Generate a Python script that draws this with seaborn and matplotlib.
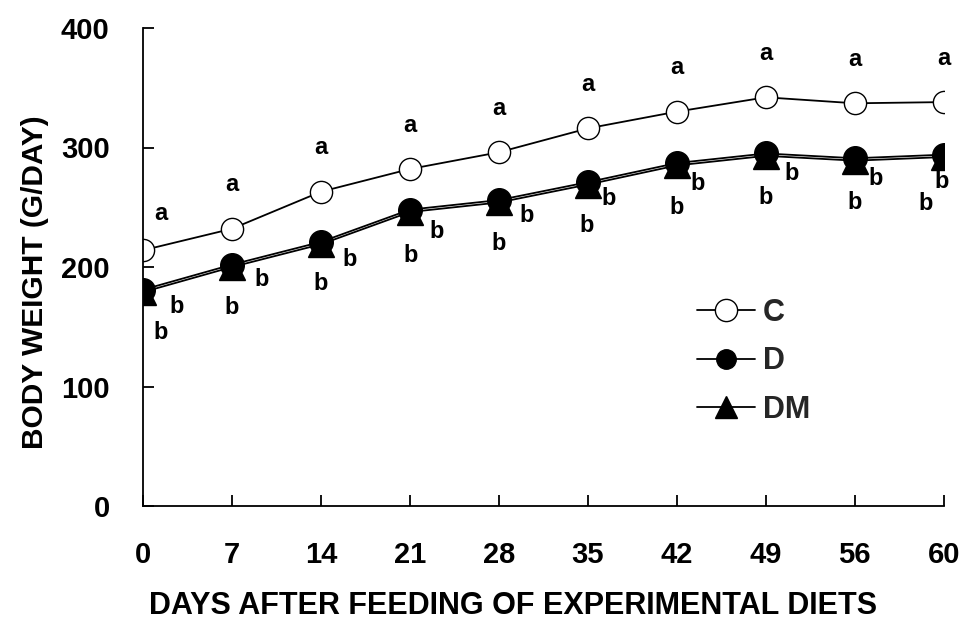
import numpy as np
import pandas as pd
import matplotlib
matplotlib.use("Agg")
import matplotlib.pyplot as plt
import seaborn as sns
from matplotlib.lines import Line2D

# ---- data ----
days = ["0", "7", "14", "21", "28", "35", "42", "49", "56", "60"]
weight_c = [214, 232, 263, 282, 296, 316, 330, 342, 337, 338]
weight_d = [181, 202, 221, 248, 256, 271, 287, 295, 291, 294]
weight_dm = [179, 200, 219, 246, 254, 269, 285, 293, 289, 292]
letters_c = ["a"] * 10
letters_d = ["b"] * 10
letters_dm = ["b"] * 10
y_ticks = [0, 100, 200, 300, 400]

# ---- style ----
sns.set_theme(style="white")
plt.rcParams["font.family"] = ["Liberation Sans", "DejaVu Sans"]
plt.rcParams["font.weight"] = "bold"

fig = plt.figure(figsize=(9.63, 6.25), dpi=100)
ax = fig.add_axes([0.1485, 0.1904, 0.8315, 0.7648])

df = pd.DataFrame({
    "day": days * 3,
    "weight": weight_c + weight_d + weight_dm,
    "group": ["C"] * 10 + ["D"] * 10 + ["DM"] * 10,
})

common = dict(x="day", y="weight", ax=ax, color="black", linewidth=1.3,
              markeredgecolor="black", markeredgewidth=1.0, sort=False,
              legend=False)
sns.lineplot(data=df[df.group == "DM"], marker="^", markersize=19,
             markerfacecolor="black", **common)
sns.lineplot(data=df[df.group == "D"], marker="o", markersize=17,
             markerfacecolor="black", **common)
sns.lineplot(data=df[df.group == "C"], marker="o", markersize=16,
             markerfacecolor="white", **common)

# significance letters (offsets in pixels)
a_off = [(18, 37)] + [(0, 44)] * 9
d_off = [(34, -17), (30, -15), (29, -18), (27, -22), (28, -15),
         (21, -16), (21, -20), (26, -20), (21, -20), (-2, -27)]
dm_off = [(18, -40), (0, -41), (0, -39), (1, -43), (0, -41),
          (-1, -41), (0, -42), (0, -42), (0, -42), (-18, -46)]
txt = dict(textcoords="offset pixels", ha="center", va="center",
           fontsize=17, fontweight="bold", color="black")
for i in range(len(days)):
    ax.annotate(letters_c[i], (i, weight_c[i]), xytext=a_off[i], **txt)
    ax.annotate(letters_d[i], (i, weight_d[i]), xytext=d_off[i], **txt)
    ax.annotate(letters_dm[i], (i, weight_dm[i]), xytext=dm_off[i], **txt)

ax.set_xlim(0, len(days) - 1)
ax.set_ylim(0, 400)
ax.set_xticks(range(len(days)))
ax.set_xticklabels(days)
ax.set_yticks(y_ticks)
ax.tick_params(axis="both", direction="in", length=8, width=1.3,
               color="black", labelsize=21, labelcolor="black",
               bottom=True, left=True)
ax.tick_params(axis="x", pad=25)
ax.tick_params(axis="y", pad=24)
for lab in ax.get_xticklabels() + ax.get_yticklabels():
    lab.set_fontweight("bold")

for s in ["top", "right"]:
    ax.spines[s].set_visible(False)
for s in ["left", "bottom"]:
    ax.spines[s].set_color("black")
    ax.spines[s].set_linewidth(1.3)

ax.set_xlabel("DAYS AFTER FEEDING OF EXPERIMENTAL DIETS", fontsize=22,
              fontweight="bold", color="black")
ax.set_ylabel("BODY WEIGHT (G/DAY)", fontsize=21.5, fontweight="bold",
              color="black")
ax.xaxis.set_label_coords(0.462, -0.178)
ax.yaxis.set_label_coords(-0.118, 0.469)

handles = [
    Line2D([], [], color="black", lw=1.3, marker="o", ms=16,
           mfc="white", mec="black"),
    Line2D([], [], color="black", lw=1.3, marker="o", ms=14,
           mfc="black", mec="black"),
    Line2D([], [], color="black", lw=1.3, marker="^", ms=16,
           mfc="black", mec="black"),
]
leg = ax.legend(handles, ["C", "D", "DM"], loc="upper left",
                bbox_to_anchor=(0.692, 0.436), frameon=False, fontsize=22,
                handlelength=1.9, handletextpad=0.26, labelspacing=0.61,
                borderpad=0, borderaxespad=0)
for t in leg.get_texts():
    t.set_fontweight("bold")

fig.savefig("out.png", dpi=100, facecolor="white")
